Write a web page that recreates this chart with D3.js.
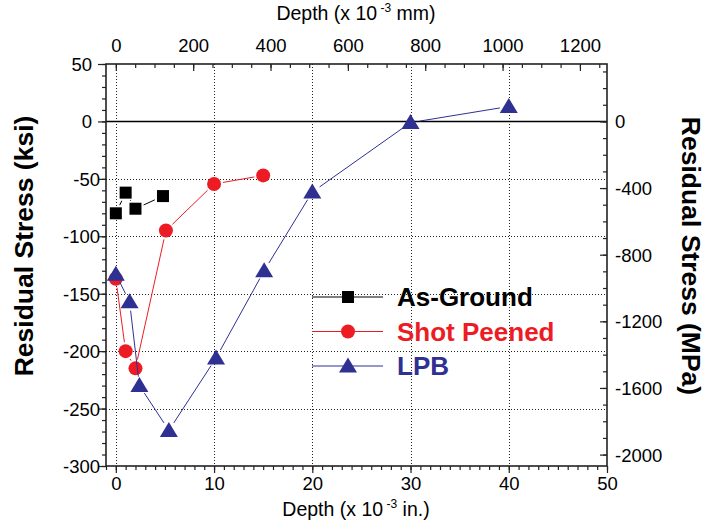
<!DOCTYPE html>
<html>
<head>
<meta charset="utf-8">
<script src="https://cdn.jsdelivr.net/npm/d3@7.9.0/dist/d3.min.js"></script>
<style>
  body { margin: 0; background: #fff; }
  svg, svg text { font-family: "Liberation Sans", Arial, sans-serif; }
  svg { display: block; }
</style>
</head>
<body>
<svg id="chart" width="719" height="522"></svg>
<script>
// depth in 1e-3 in., residual stress in ksi
const asGround = [[0, -80], [1, -62], [2, -76], [4.8, -65]];
const shotPeened = [[0, -137], [1, -200], [2, -215], [5.1, -95], [10, -54.5], [15, -47]];
const lpb = [[0, -133], [1.4, -157], [2.4, -230], [5.4, -269], [10.2, -206], [15.1, -130], [20, -61.5], [30, -1], [40, 13]];

const seriesNames = ['As-Ground', 'Shot Peened', 'LPB'];
const seriesColors = ['#000000', '#ed1c24', '#2e3192'];
const seriesShapes = ['square', 'circle', 'triangle'];

const xTicksIn = [0, 10, 20, 30, 40, 50];
const yTicksKsi = [50, 0, -50, -100, -150, -200, -250, -300];
const xTicksMm = [0, 200, 400, 600, 800, 1000, 1200];
const yTicksMpa = [0, -400, -800, -1200, -1600, -2000];

const KSI_TO_MPA = 6.895;
const IN_TO_MM = 25.4;

const svg = d3.select('#chart');
const plot = { left: 106, right: 607, top: 64, bottom: 466 };

const x = d3.scaleLinear().domain([-1, 50]).range([plot.left, plot.right]);
const y = d3.scaleLinear().domain([-300, 50]).range([plot.bottom, plot.top]);
const xMm = d3.scaleLinear().domain([-1 * IN_TO_MM, 50 * IN_TO_MM]).range([plot.left, plot.right]);
const yMpa = d3.scaleLinear().domain([-300 * KSI_TO_MPA, 50 * KSI_TO_MPA]).range([plot.bottom, plot.top]);

const fmt = d => d < 0 ? '-' + Math.abs(d) : String(d);

// grid
const grid = svg.append('g').attr('class', 'grid')
  .attr('stroke', '#222').attr('stroke-width', 1).attr('stroke-dasharray', '1,2');
grid.selectAll('line.v').data([0, 10, 20, 30, 40]).join('line')
  .attr('class', 'v')
  .attr('x1', d => Math.round(x(d)) + 0.5).attr('x2', d => Math.round(x(d)) + 0.5)
  .attr('y1', plot.top).attr('y2', plot.bottom);
grid.selectAll('line.h').data([-50, -100, -150, -200, -250]).join('line')
  .attr('class', 'h')
  .attr('x1', plot.left).attr('x2', plot.right)
  .attr('y1', d => Math.round(y(d)) + 0.5).attr('y2', d => Math.round(y(d)) + 0.5);

// zero line
svg.append('line')
  .attr('x1', plot.left).attr('x2', plot.right)
  .attr('y1', Math.round(y(0)) + 0.5).attr('y2', Math.round(y(0)) + 0.5)
  .attr('stroke', '#000').attr('stroke-width', 1.3);

// axes helper
function drawAxis(axis, transform, showLabels) {
  const g = svg.append('g').attr('transform', transform).call(axis)
    .attr('font-family', '"Liberation Sans", Arial, sans-serif').attr('font-size', 18.5);
  g.select('.domain').remove();
  g.selectAll('.tick line').attr('stroke', '#222').attr('stroke-width', 1.2);
  if (!showLabels) g.selectAll('.tick text').remove();
  g.selectAll('.tick text').attr('fill', '#000');
  return g;
}

// left (ksi), ticks outward
drawAxis(d3.axisLeft(y).tickValues(d3.range(-300, 51, 10)).tickSize(4), `translate(${plot.left},0)`, false);
const gl = drawAxis(d3.axisLeft(y).tickValues(yTicksKsi).tickSize(8).tickFormat(fmt),
  `translate(${plot.left},0)`, true);
gl.selectAll('.tick text').attr('x', d => d < 0 ? -6 : -14).attr('dy', '0.35em');

// bottom (in.), ticks outward
drawAxis(d3.axisBottom(x).tickValues(d3.range(-1, 51, 1)).tickSize(4), `translate(0,${plot.bottom})`, false);
const gb = drawAxis(d3.axisBottom(x).tickValues(xTicksIn).tickSize(7).tickFormat(fmt), `translate(0,${plot.bottom})`, true);
gb.selectAll('.tick text').attr('y', 11).attr('dy', '0.71em');

// top (mm), ticks inward
drawAxis(d3.axisBottom(xMm).tickValues(d3.range(0, 1251, 50)).tickSize(4), `translate(0,${plot.top})`, false);
const gt = drawAxis(d3.axisBottom(xMm).tickValues(xTicksMm).tickSize(7).tickFormat(fmt), `translate(0,${plot.top})`, true);
gt.selectAll('.tick text').attr('y', -12).attr('dy', '0');

// right (MPa), ticks inward
drawAxis(d3.axisLeft(yMpa).tickValues(d3.range(-2000, 301, 100)).tickSize(4), `translate(${plot.right},0)`, false);
const gr = drawAxis(d3.axisLeft(yMpa).tickValues(yTicksMpa).tickSize(7).tickFormat(fmt),
  `translate(${plot.right},0)`, true);
gr.selectAll('.tick text').attr('x', 8).attr('text-anchor', 'start').attr('dy', '0.35em');

// frame
svg.append('rect')
  .attr('x', plot.left).attr('y', plot.top)
  .attr('width', plot.right - plot.left).attr('height', plot.bottom - plot.top)
  .attr('fill', 'none').attr('stroke', '#222').attr('stroke-width', 1.6);

// markers
function marker(g, shape, color) {
  if (shape === 'square') {
    g.append('rect').attr('x', -6).attr('y', -6).attr('width', 12).attr('height', 12).attr('fill', color);
  } else if (shape === 'circle') {
    g.append('circle').attr('r', 7).attr('fill', color);
  } else {
    g.append('path').attr('d', 'M0,-8.5L9,6.5L-9,6.5Z').attr('fill', color);
  }
}

// lines with small gaps at the markers, as in the original
function gapSegments(pts, gap) {
  const segs = [];
  for (let i = 0; i < pts.length - 1; i++) {
    const [x1, y1] = [x(pts[i][0]), y(pts[i][1])];
    const [x2, y2] = [x(pts[i + 1][0]), y(pts[i + 1][1])];
    const len = Math.hypot(x2 - x1, y2 - y1);
    if (len <= gap * 2) continue;
    const ux = (x2 - x1) / len, uy = (y2 - y1) / len;
    segs.push([x1 + ux * gap, y1 + uy * gap, x2 - ux * gap, y2 - uy * gap]);
  }
  return segs;
}

[asGround, shotPeened, lpb].forEach((data, i) => {
  const g = svg.append('g');
  g.selectAll('line').data(gapSegments(data, 9)).join('line')
    .attr('x1', d => d[0]).attr('y1', d => d[1]).attr('x2', d => d[2]).attr('y2', d => d[3])
    .attr('stroke', seriesColors[i]).attr('stroke-width', 1);
  g.selectAll('g.pt').data(data).join('g')
    .attr('class', 'pt')
    .attr('transform', d => `translate(${x(d[0])},${y(d[1])})`)
    .each(function () { marker(d3.select(this), seriesShapes[i], seriesColors[i]); });
});

// legend
const legend = svg.append('g').attr('transform', 'translate(312,297)');
seriesNames.forEach((name, i) => {
  const row = legend.append('g').attr('transform', `translate(0,${i * 34.5})`);
  row.append('line').attr('x1', 0).attr('x2', 71).attr('stroke', seriesColors[i]).attr('stroke-width', 1);
  const m = row.append('g').attr('transform', 'translate(36,0)');
  marker(m, seriesShapes[i], seriesColors[i]);
  row.append('text').attr('x', 85).attr('dy', '0.36em')
    .attr('fill', seriesColors[i]).style('font-size', '26px').style('font-weight', 'bold')
    .text(name);
});

// axis titles
function titleWithSup(sel, before, sup, after) {
  sel.append('tspan').text(before);
  sel.append('tspan').attr('dy', -8).style('font-size', '12px').text(' ' + sup);
  sel.append('tspan').attr('dy', 8).text(' ' + after);
}
titleWithSup(svg.append('text').attr('x', 356).attr('y', 20).attr('text-anchor', 'middle').style('font-size', '19.5px'),
  'Depth (x 10', '-3', 'mm)');
titleWithSup(svg.append('text').attr('x', 356).attr('y', 516).attr('text-anchor', 'middle').style('font-size', '19.5px'),
  'Depth (x 10', '-3', 'in.)');

svg.append('text')
  .attr('transform', 'translate(33,246) rotate(-90)')
  .attr('text-anchor', 'middle').style('font-size', '26.5px').style('font-weight', 'bold')
  .text('Residual Stress (ksi)');
svg.append('text')
  .attr('transform', 'translate(682,256) rotate(90)')
  .attr('text-anchor', 'middle').style('font-size', '26.5px').style('font-weight', 'bold')
  .text('Residual Stress (MPa)');
</script>
</body>
</html>
